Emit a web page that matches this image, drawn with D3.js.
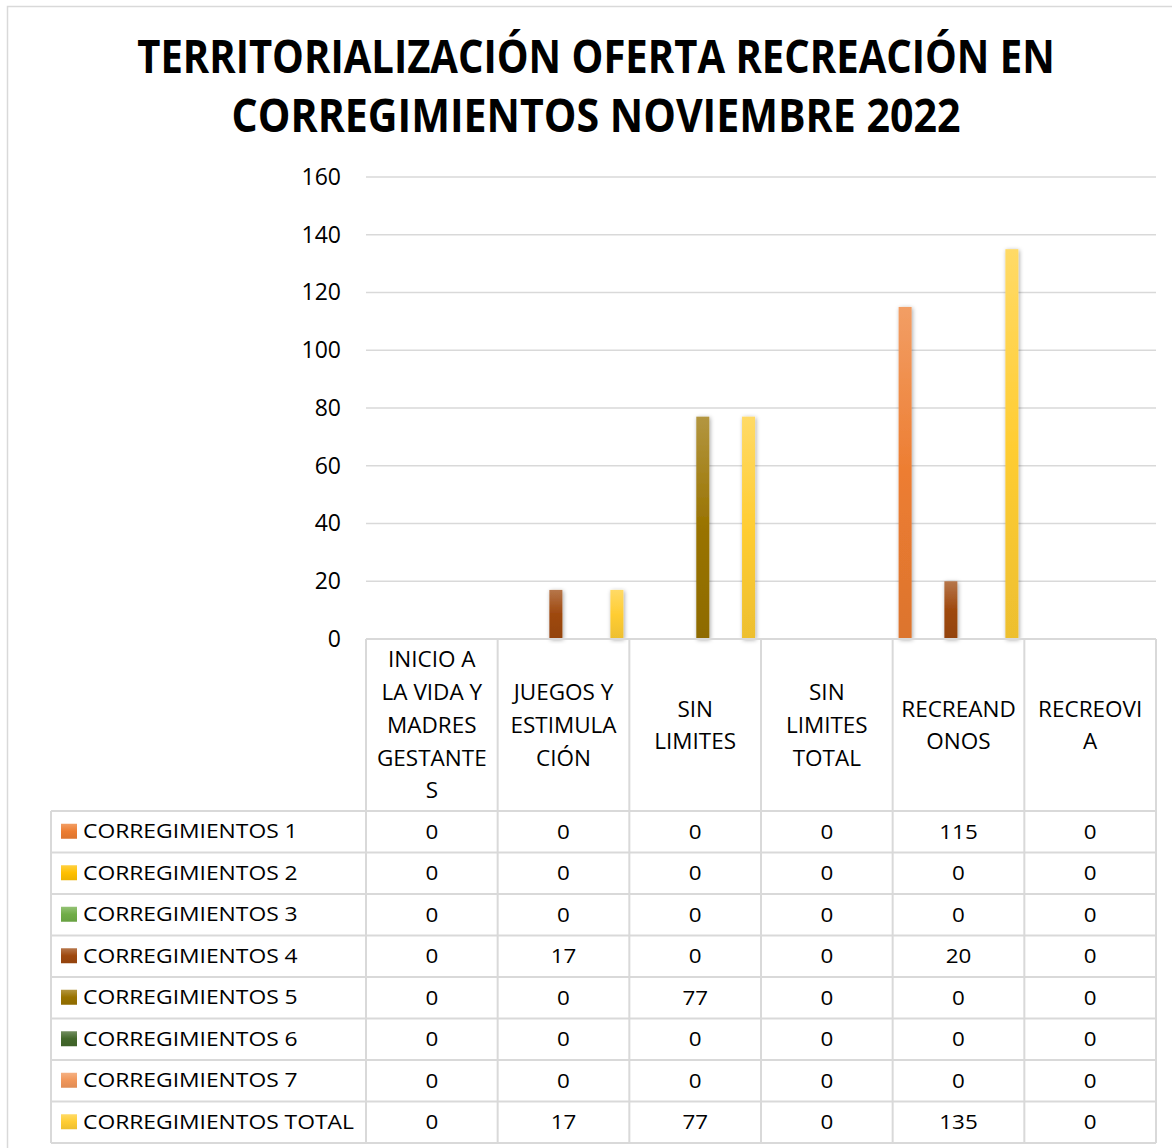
<!DOCTYPE html>
<html>
<head>
<meta charset="utf-8">
<script src="https://cdn.jsdelivr.net/npm/d3@7"></script>
<style>
  body { margin: 0; background: #fff; }
  text { font-family: "Open Sans", sans-serif; fill: #000; }
</style>
</head>
<body>
<div id="chart"></div>
<script>
// chart data
var titleLines = ["TERRITORIALIZACIÓN OFERTA RECREACIÓN EN", "CORREGIMIENTOS NOVIEMBRE 2022"];
var categories = ["INICIO A LA VIDA Y MADRES GESTANTES", "JUEGOS Y ESTIMULACIÓN", "SIN LIMITES",
  "SIN LIMITES TOTAL", "RECREANDONOS", "RECREOVIA"];
var categoryLines = [
  ["INICIO A", "LA VIDA Y", "MADRES", "GESTANTE", "S"],
  ["JUEGOS Y", "ESTIMULA", "CIÓN"],
  ["SIN", "LIMITES"],
  ["SIN", "LIMITES", "TOTAL"],
  ["RECREAND", "ONOS"],
  ["RECREOVI", "A"]
];
var seriesNames = ["CORREGIMIENTOS 1", "CORREGIMIENTOS 2", "CORREGIMIENTOS 3", "CORREGIMIENTOS 4",
  "CORREGIMIENTOS 5", "CORREGIMIENTOS 6", "CORREGIMIENTOS 7", "CORREGIMIENTOS TOTAL"];
var corr1 = [0, 0, 0, 0, 115, 0];
var corr2 = [0, 0, 0, 0, 0, 0];
var corr3 = [0, 0, 0, 0, 0, 0];
var corr4 = [0, 17, 0, 0, 20, 0];
var corr5 = [0, 0, 77, 0, 0, 0];
var corr6 = [0, 0, 0, 0, 0, 0];
var corr7 = [0, 0, 0, 0, 0, 0];
var corrTotal = [0, 17, 77, 0, 135, 0];
var yTicks = [0, 20, 40, 60, 80, 100, 120, 140, 160];
var seriesColors = ["#ED7D31", "#FFC000", "#70AD47", "#9E480E", "#997300", "#43682B", "#F1975A", "#FFCD33"];

var seriesValues = [corr1, corr2, corr3, corr4, corr5, corr6, corr7, corrTotal];

var svgWidth = 1172;
var svgHeight = 1148;

var plot = { left: 366, right: 1156, top: 177, bottom: 639 };
var headerBottom = 811;
var rowHeight = 41.5;
var tableLeft = 51;
var gridColor = "#d9d9d9";

var svg = d3.select("#chart")
  .append("svg")
  .attr("width", svgWidth)
  .attr("height", svgHeight);

var defs = svg.append("defs");

// gradient per series, lighter on top like the office style
seriesColors.forEach(function(c, i) {
  var g = defs.append("linearGradient")
    .attr("id", "grad" + i)
    .attr("x1", 0).attr("y1", 0).attr("x2", 0).attr("y2", 1);
  g.append("stop").attr("offset", "0%").attr("stop-color", d3.interpolateRgb(c, "#fff")(0.25));
  g.append("stop").attr("offset", "50%").attr("stop-color", c);
  g.append("stop").attr("offset", "100%").attr("stop-color", d3.interpolateRgb(c, "#000")(0.07));
});

var shadow = defs.append("filter")
  .attr("id", "shadow")
  .attr("x", "-50%").attr("y", "-10%").attr("width", "200%").attr("height", "120%");
shadow.append("feDropShadow")
  .attr("dx", 1).attr("dy", 1)
  .attr("stdDeviation", 2)
  .attr("flood-color", "#000")
  .attr("flood-opacity", 0.35);

// outer chart border
svg.append("rect")
  .attr("x", 7.5)
  .attr("y", 6.5)
  .attr("width", 1180)
  .attr("height", 1160)
  .attr("fill", "none")
  .attr("stroke", "#d9d9d9")
  .attr("stroke-width", 1.5);

// title - squeezed horizontally to the narrow look of the original
var titleWidths = [918, 729];
svg.selectAll(".title")
  .data(titleLines)
  .enter()
  .append("text")
  .attr("class", "title")
  .attr("text-anchor", "middle")
  .style("font-size", "46px")
  .style("font-weight", "bold")
  .text(d => d)
  .each(function(d, i) {
    var natural = this.getComputedTextLength();
    var sx = titleWidths[i] / natural;
    d3.select(this).attr("transform", `translate(596, ${73 + i * 59}) scale(${sx}, 1)`);
  });

// scales
var x0 = d3.scaleBand()
  .domain(categories)
  .range([plot.left, plot.right])
  .paddingInner(0)
  .paddingOuter(0);

var x1 = d3.scaleBand()
  .domain(d3.range(seriesNames.length))
  .range([0, x0.bandwidth()])
  .paddingInner(0.148)
  .paddingOuter(0.39);

var yScale = d3.scaleLinear()
  .domain([0, 160])
  .range([plot.bottom, plot.top]);

// gridlines
svg.append("g")
  .selectAll("line")
  .data(yTicks.filter(d => d > 0))
  .enter()
  .append("line")
  .attr("x1", plot.left)
  .attr("x2", plot.right)
  .attr("y1", d => yScale(d))
  .attr("y2", d => yScale(d))
  .attr("stroke", gridColor)
  .attr("stroke-width", 1.5);

// y axis labels
var leftAxis = d3.axisLeft(yScale)
  .tickValues(yTicks)
  .tickSize(0)
  .tickPadding(25);

var yAxis = svg.append("g")
  .attr("transform", `translate(${plot.left}, 0)`)
  .call(leftAxis);
yAxis.select(".domain").remove();
yAxis.selectAll("text")
  .style("font-family", "'Open Sans', sans-serif")
  .style("font-size", "23px")
  .attr("fill", "#000");

// bars
var barData = [];
seriesValues.forEach(function(vals, s) {
  vals.forEach(function(v, c) {
    barData.push({ series: s, cat: categories[c], value: v });
  });
});

svg.append("g")
  .selectAll("rect")
  .data(barData.filter(d => d.value > 0))
  .enter()
  .append("rect")
  .attr("x", d => x0(d.cat) + x1(d.series))
  .attr("y", d => yScale(d.value))
  .attr("width", x1.bandwidth())
  .attr("height", d => yScale(0) - yScale(d.value))
  .attr("fill", d => "url(#grad" + d.series + ")")
  .attr("filter", "url(#shadow)");

// data table lines
var tableBottom = headerBottom + rowHeight * seriesNames.length;
var table = svg.append("g")
  .attr("stroke", gridColor)
  .attr("stroke-width", 2);

table.append("line")
  .attr("x1", plot.left).attr("x2", plot.right)
  .attr("y1", plot.bottom).attr("y2", plot.bottom);

d3.range(seriesNames.length + 1).forEach(function(i) {
  table.append("line")
    .attr("x1", tableLeft).attr("x2", plot.right)
    .attr("y1", headerBottom + i * rowHeight)
    .attr("y2", headerBottom + i * rowHeight);
});

table.append("line")
  .attr("x1", tableLeft).attr("x2", tableLeft)
  .attr("y1", headerBottom).attr("y2", tableBottom);

categories.concat(["end"]).forEach(function(c) {
  var xPos = c === "end" ? plot.right : x0(c);
  table.append("line")
    .attr("x1", xPos).attr("x2", xPos)
    .attr("y1", plot.bottom).attr("y2", tableBottom);
});

// header labels (category names)
var headerMid = (plot.bottom + headerBottom) / 2;
categories.forEach(function(c, i) {
  var lines = categoryLines[i];
  var cx = x0(c) + x0.bandwidth() / 2;
  svg.append("g")
    .selectAll("text")
    .data(lines)
    .enter()
    .append("text")
    .attr("x", cx)
    .attr("y", (d, j) => headerMid + (j - (lines.length - 1) / 2) * 32.7)
    .attr("dy", "0.35em")
    .attr("text-anchor", "middle")
    .style("font-size", "22.5px")
    .text(d => d);
});

// legend column of the table
seriesNames.forEach(function(name, s) {
  var cy = headerBottom + rowHeight * (s + 0.5);
  svg.append("rect")
    .attr("x", 61)
    .attr("y", cy - 8)
    .attr("width", 16)
    .attr("height", 15)
    .attr("fill", "url(#grad" + s + ")");
  svg.append("text")
    .attr("transform", `translate(83, ${cy}) scale(1.19, 1)`)
    .attr("dy", "0.35em")
    .style("font-size", "19.2px")
    .text(name);

  // values
  seriesValues[s].forEach(function(v, c) {
    var cx = x0(categories[c]) + x0.bandwidth() / 2;
    svg.append("text")
      .attr("transform", `translate(${cx}, ${cy}) scale(1.12, 1)`)
      .attr("dy", "0.35em")
      .attr("text-anchor", "middle")
      .style("font-size", "20px")
      .text(v);
  });
});
</script>
</body>
</html>
